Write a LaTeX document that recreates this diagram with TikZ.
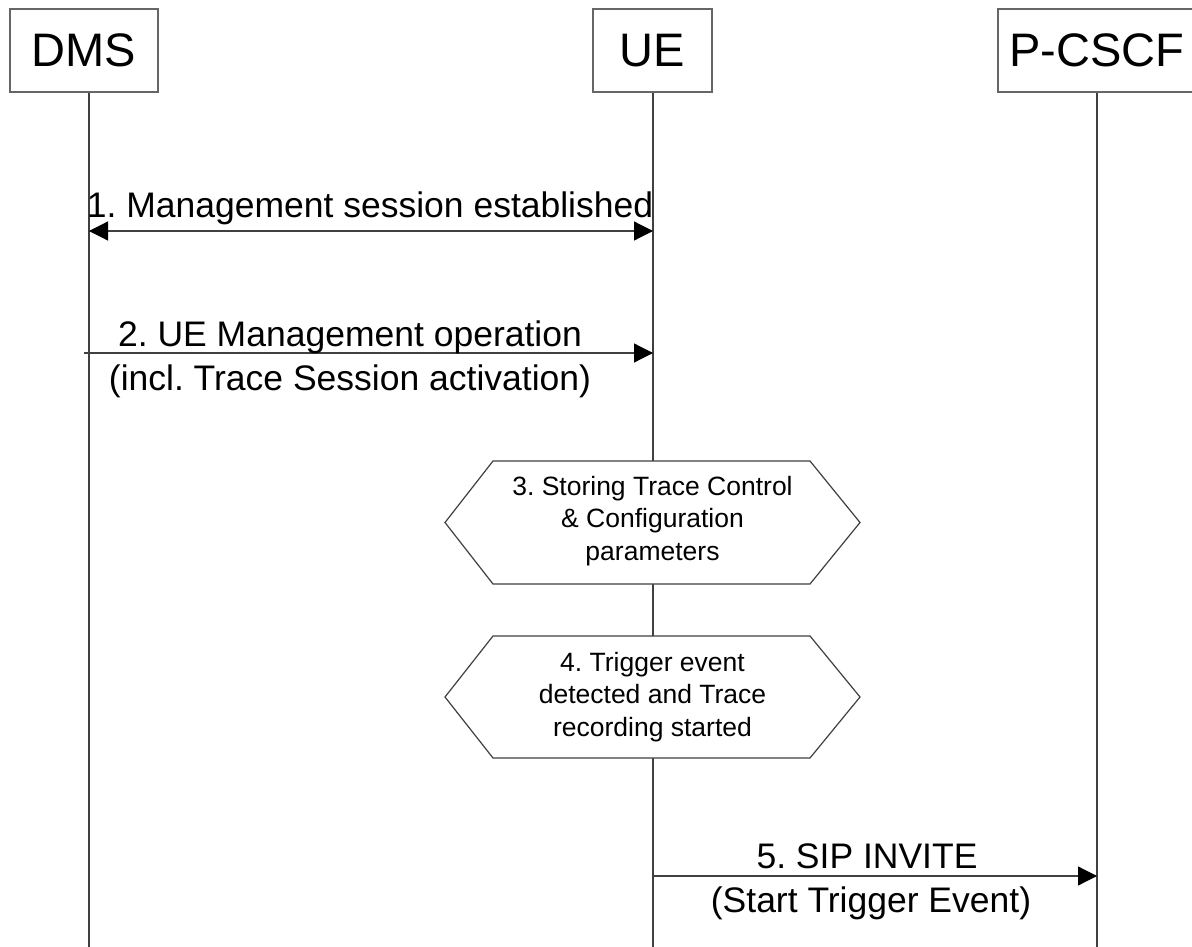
\documentclass[tikz,border=0pt]{standalone}
\usepackage{fontspec}
\setmainfont{Liberation Sans}
\usetikzlibrary{arrows.meta}
\frenchspacing
\begin{document}
\begin{tikzpicture}[x=1pt,y=-1pt,
  entity/.style={draw=black!60,line width=1.2pt,fill=white,minimum height=83pt,inner sep=0pt,font=\fontsize{47}{56}\selectfont},
  lifeline/.style={draw=black!75,line width=1.2pt},
  msg/.style={draw=black!75,line width=1.2pt},
  tip/.style={-{Triangle[length=19pt,width=19pt,color=black]}},
  dtip/.style={{Triangle[length=19pt,width=19pt,color=black]}-{Triangle[length=19pt,width=19pt,color=black]}},
  msgtext/.style={anchor=base,inner sep=0pt,font=\fontsize{35.5}{43}\selectfont},
  hextext/.style={align=center,inner sep=0pt,font=\fontsize{26.5}{32.5}\selectfont},
  hexbox/.style={draw=black!75,line width=1.2pt,fill=white}]
\useasboundingbox (0,0) rectangle (1192,947);
\fill[white] (0,0) rectangle (1192,947);
% entities
\node[entity,minimum width=148pt] (dms) at (84,50.5) {DMS};
\node[entity,minimum width=119pt] (ue) at (652.5,50.5) {UE};
\node[entity,minimum width=216pt] (pcscf) at (1106,50.5) {\hspace*{-18pt}P-CSCF};
% lifeline ends
\coordinate (dmsend) at (89,947);
\coordinate (ueend) at (653,947);
\coordinate (pend) at (1097,947);
\draw[lifeline] (dms.south -| dmsend) -- (dmsend);
\draw[lifeline] (ue.south -| ueend) -- (ueend);
\draw[lifeline] (pcscf.south -| pend) -- (pend);
% message 1
\coordinate (m1a) at (89,231);
\coordinate (m1b) at (653,231);
\draw[msg,dtip] (m1a) -- (m1b);
\node[msgtext] (t1) at (370,218) {1. Management session established};
% message 2
\coordinate (m2a) at (84,353);
\coordinate (m2b) at (653,353);
\draw[msg,tip] (m2a) -- (m2b);
\node[msgtext] (t2a) at (350,346) {2. UE Management operation};
\node[msgtext] (t2b) at (350,390) {(incl. Trace Session activation)};
% action 3
\draw[hexbox] (445,522.5) -- (493,461) -- (810,461) -- (860,522.5) -- (810,584) -- (493,584) -- cycle;
\node[hextext] (a3) at (652.5,521) {3. Storing Trace Control\\ \& Configuration\\ parameters};
% action 4
\draw[hexbox] (445,697) -- (493,636) -- (810,636) -- (860,697) -- (810,758) -- (493,758) -- cycle;
\node[hextext] (a4) at (652.5,697) {4. Trigger event\\ detected and Trace\\ recording started};
% message 5
\coordinate (m5a) at (653,876);
\coordinate (m5b) at (1097,876);
\draw[msg,tip] (m5a) -- (m5b);
\node[msgtext] (t5a) at (867,868) {5. SIP INVITE};
\node[msgtext] (t5b) at (871,912) {(Start Trigger Event)};
\end{tikzpicture}
\end{document}
